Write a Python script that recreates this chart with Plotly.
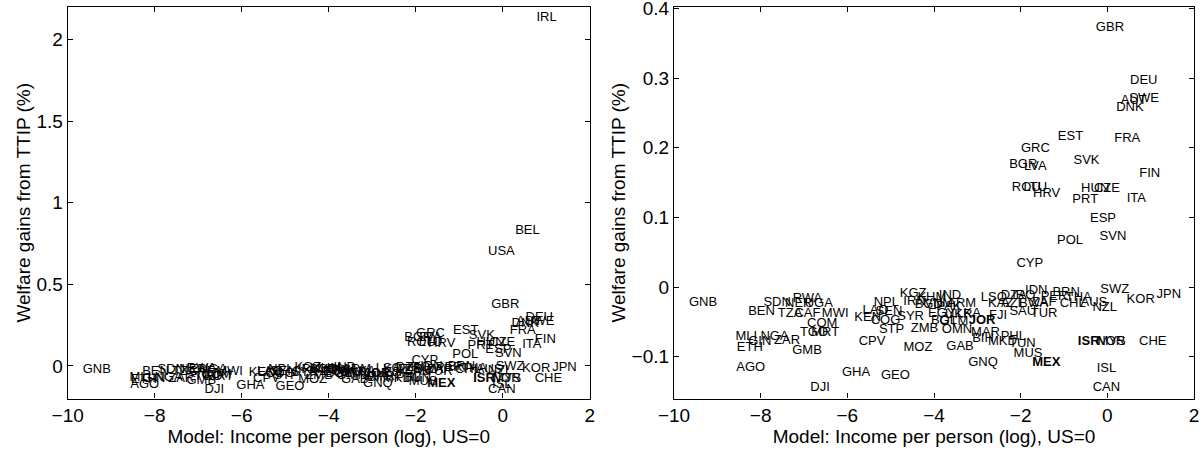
import plotly.graph_objects as go
from plotly.subplots import make_subplots

# Country codes, model income per person (log, US=0), welfare gains from TTIP (%)
countries = [
    "IRL", "BEL", "USA",
    "GBR", "DEU", "SWE", "AUT", "DNK", "EST", "FRA", "GRC", "SVK", "BGR", "LVA",
    "FIN", "ROU", "LTU", "HRV", "HUN", "CZE", "PRT", "ITA", "ESP", "SVN", "POL",
    "CYP", "SWZ", "KOR", "JPN", "IDN", "BRN", "NZL", "CHL", "AUS", "SAU", "TUR",
    "FJI", "LSO", "KAZ", "ISR", "NOR", "MYS", "CHE", "MEX", "ISL", "CAN", "MUS",
    "TUN", "MKD", "PHL", "BIH", "MAR", "OMN", "GAB", "MOZ", "GNQ", "JOR", "ZMB",
    "GNB", "SDN", "BEN", "NER", "RWA", "UGA", "TZA", "CAF", "MWI", "COM", "TGO",
    "MRT", "MLI", "NGA", "GIN", "ZAR", "ETH", "GMB", "AGO", "DJI", "GHA", "GEO",
    "CPV", "STP", "NPL", "KEN", "COG", "LAO", "SEN", "SYR", "KGZ", "IRN",
    "IND", "KHM", "BGD", "VNM", "ARM", "PAK", "EGY", "UKR", "LKA", "BOL", "GTM",
    "DZA", "IRQ", "PER", "THA", "AZE", "BWA", "ZAF",
]
income_log = [
    1.01, 0.57, -0.03,
    0.06, 0.84, 0.85, 0.61, 0.52, -0.85, 0.46, -1.66, -0.48, -1.94, -1.66,
    0.98, -1.87, -1.66, -1.40, -0.28, -0.01, -0.51, 0.67, -0.10, 0.13, -0.86,
    -1.79, 0.17, 0.77, 1.42, -1.64, -0.95, -0.06, -0.80, -0.31, -1.95, -1.46,
    -2.52, -2.62, -2.46, -0.43, 0.08, 0.10, 1.05, -1.41, -0.02, -0.02, -1.83,
    -1.96, -2.42, -2.17, -2.87, -2.81, -3.47, -3.40, -4.37, -2.87, -2.89, -4.22,
    -9.33, -7.62, -7.98, -7.12, -6.92, -6.66, -7.32, -6.92, -6.28, -6.58, -6.77,
    -6.51, -8.33, -7.68, -8.02, -7.39, -8.25, -6.93, -8.23, -6.63, -5.80, -4.89,
    -5.43, -4.98, -5.10, -5.53, -5.12, -5.35, -5.04, -4.54, -4.48, -4.45,
    -3.63, -4.05, -4.12, -3.89, -3.36, -3.66, -3.82, -3.43, -3.20, -3.77, -3.54,
    -2.16, -1.93, -1.23, -0.66, -2.16, -1.70, -1.46,
]
welfare_gain = [
    2.135, 0.830, 0.698,
    0.372, 0.296, 0.271, 0.268, 0.258, 0.216, 0.2135, 0.199, 0.182, 0.175, 0.173,
    0.162, 0.143, 0.143, 0.134, 0.1416, 0.1416, 0.125, 0.127, 0.098, 0.072, 0.067,
    0.034, -0.004, -0.018, -0.011, -0.006, -0.008, -0.030, -0.024, -0.023, -0.036, -0.039,
    -0.041, -0.015, -0.024, -0.078, -0.078, -0.079, -0.078, -0.108, -0.118, -0.144, -0.096,
    -0.081, -0.079, -0.072, -0.074, -0.065, -0.062, -0.085, -0.087, -0.108, -0.048, -0.060,
    -0.022, -0.023, -0.036, -0.024, -0.017, -0.024, -0.038, -0.038, -0.038, -0.053, -0.065,
    -0.065, -0.071, -0.072, -0.078, -0.077, -0.087, -0.091, -0.116, -0.145, -0.123, -0.127,
    -0.078, -0.062, -0.022, -0.044, -0.048, -0.034, -0.036, -0.042, -0.009, -0.021,
    -0.013, -0.015, -0.026, -0.024, -0.024, -0.028, -0.038, -0.040, -0.038, -0.048, -0.050,
    -0.012, -0.013, -0.014, -0.016, -0.024, -0.024, -0.023,
]
bold_labels = ["MEX", "ISR", "JOR"]

x_ticks = [-10, -8, -6, -4, -2, 0, 2]
left_y_ticks = [0, 0.5, 1, 1.5, 2]
right_y_ticks = [-0.1, 0, 0.1, 0.2, 0.3, 0.4]
x_range = [-10, 2]
left_y_range = [-0.2, 2.2]
right_y_range = [-0.16, 0.402]

x_title = "Model: Income per person (log), US=0"
y_title = "Welfare gains from TTIP (%)"

labels = ["<b>%s</b>" % c if c in bold_labels else c for c in countries]

FONT = "Liberation Sans, Arial, Helvetica, sans-serif"


def in_range(yr):
    idx = [i for i, v in enumerate(welfare_gain) if yr[0] <= v <= yr[1]]
    return ([income_log[i] for i in idx], [welfare_gain[i] for i in idx],
            [labels[i] for i in idx])


fig = make_subplots(rows=1, cols=2)
for col, yr in ((1, left_y_range), (2, right_y_range)):
    xs, ys, ts = in_range(yr)
    fig.add_trace(
        go.Scatter(
            x=xs, y=ys, text=ts, mode="text",
            textposition="middle center",
            textfont=dict(family=FONT, size=13, color="black"),
            hoverinfo="text", showlegend=False,
        ),
        row=1, col=col,
    )

W, H = 1203, 451
ydom = [(H - 398.5) / H, (H - 7.0) / H]
fig.update_layout(
    width=W, height=H,
    margin=dict(l=0, r=0, t=0, b=0),
    paper_bgcolor="white", plot_bgcolor="white",
    font=dict(family=FONT, size=19, color="black"),
    xaxis=dict(domain=[67.7 / W, 589.7 / W], range=x_range),
    xaxis2=dict(domain=[674 / W, 1194 / W], range=x_range),
    yaxis=dict(domain=ydom, range=left_y_range, tickvals=left_y_ticks),
    yaxis2=dict(domain=ydom, range=right_y_range, tickvals=right_y_ticks),
)
axis_style = dict(
    showline=True, linecolor="black", linewidth=1.2, mirror="ticks",
    ticks="inside", ticklen=5, tickwidth=1, tickcolor="black",
    showgrid=False, zeroline=False, automargin=False,
    ticklabeloverflow="allow",
    tickfont=dict(family=FONT, size=19, color="black"),
)
fig.update_xaxes(**axis_style, tickvals=x_ticks,
                 title=dict(text=x_title, font=dict(family=FONT, size=19), standoff=2))
fig.update_yaxes(**axis_style,
                 title=dict(text=y_title, font=dict(family=FONT, size=19), standoff=0))

fig.write_html(
    "out.html",
    config={"displayModeBar": False},
    post_script="document.body.style.margin='0';document.body.style.overflow='hidden';",
)
